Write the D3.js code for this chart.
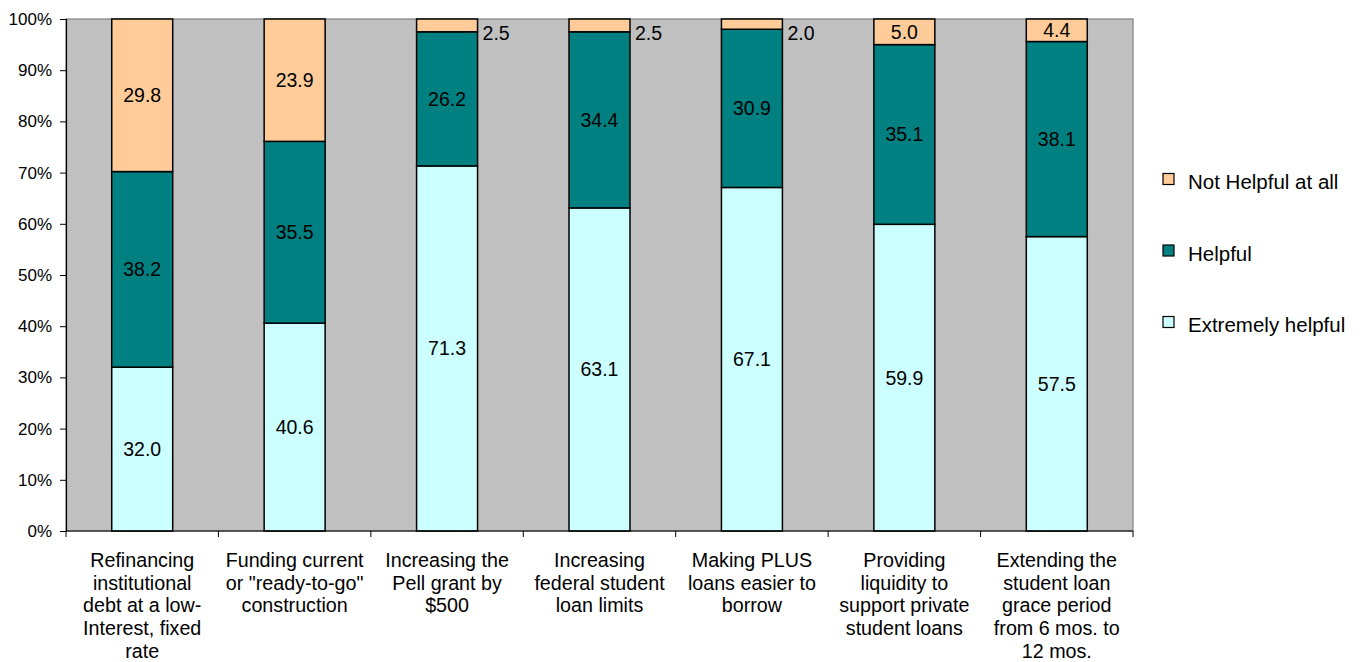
<!DOCTYPE html>
<html>
<head>
<meta charset="utf-8">
<script src="https://cdn.jsdelivr.net/npm/d3@7"></script>
<style>
  html, body { margin: 0; padding: 0; background: #fff; }
  svg { display: block; font-family: Arial, "Liberation Sans", sans-serif; }
</style>
</head>
<body>
<svg id="chart" width="1367" height="662"></svg>
<script>
// Survey responses: share of respondents per rating for each policy option
const categories = [
  ["Refinancing", "institutional", "debt at a low-", "Interest, fixed", "rate"],
  ["Funding current", "or \"ready-to-go\"", "construction"],
  ["Increasing the", "Pell grant by", "$500"],
  ["Increasing", "federal student", "loan limits"],
  ["Making PLUS", "loans easier to", "borrow"],
  ["Providing", "liquidity to", "support private", "student loans"],
  ["Extending the", "student loan", "grace period", "from 6 mos. to", "12 mos."]
];
const extremelyHelpful = [32.0, 40.6, 71.3, 63.1, 67.1, 59.9, 57.5];
const helpful          = [38.2, 35.5, 26.2, 34.4, 30.9, 35.1, 38.1];
const notHelpful       = [29.8, 23.9, 2.5, 2.5, 2.0, 5.0, 4.4];
const seriesNames = ["Extremely helpful", "Helpful", "Not Helpful at all"];
const seriesColors = ["#CCFFFF", "#008080", "#FFCC99"];
const yTicks = [0, 10, 20, 30, 40, 50, 60, 70, 80, 90, 100];

const svg = d3.select("#chart");
const plot = { left: 66, right: 1133, top: 19, bottom: 531 };

const x = d3.scaleBand()
  .domain(d3.range(categories.length))
  .range([plot.left, plot.right])
  .paddingInner(0.6)
  .paddingOuter(0.3);
const y = d3.scaleLinear().domain([0, 100]).range([plot.bottom, plot.top]);

// plot background
svg.append("rect")
  .attr("x", plot.left).attr("y", plot.top)
  .attr("width", plot.right - plot.left).attr("height", plot.bottom - plot.top)
  .attr("fill", "#C0C0C0").attr("stroke", "#808080").attr("stroke-width", 1.2);

// stacked data
const rows = categories.map((c, i) => ({
  i, "Extremely helpful": extremelyHelpful[i], "Helpful": helpful[i], "Not Helpful at all": notHelpful[i]
}));
const stacked = d3.stack().keys(seriesNames)(rows);

stacked.forEach((layer, li) => {
  const g = svg.append("g");
  g.selectAll("rect").data(layer).join("rect")
    .attr("x", d => x(d.data.i))
    .attr("width", x.bandwidth())
    .attr("y", d => y(d[1]))
    .attr("height", d => y(d[0]) - y(d[1]))
    .attr("fill", seriesColors[li])
    .attr("stroke", "#000").attr("stroke-width", 1.5);

  g.selectAll("text").data(layer).join("text")
    .each(function(d) {
      const v = d[1] - d[0];
      const t = d3.select(this);
      const outside = v < 3;
      if (outside) {
        t.attr("x", x(d.data.i) + x.bandwidth() + 5)
         .attr("y", y(d[1]) + 13.5)
         .attr("text-anchor", "start");
      } else {
        t.attr("x", x(d.data.i) + x.bandwidth() / 2)
         .attr("y", (y(d[0]) + y(d[1])) / 2)
         .attr("text-anchor", "middle");
      }
      t.attr("dominant-baseline", "central")
       .attr("font-size", 19.5).attr("fill", "#000")
       .text(v.toFixed(1));
    });
});

// y axis
const yAxis = svg.append("g").attr("transform", `translate(${plot.left},0)`)
  .call(d3.axisLeft(y).tickValues(yTicks).tickFormat(d => d + "%").tickSize(6).tickPadding(8));
yAxis.select(".domain").attr("stroke", "#000").attr("stroke-width", 1.2);
yAxis.selectAll(".tick line").attr("stroke", "#000");
yAxis.selectAll(".tick text").attr("font-size", 17).attr("font-family", "Arial, 'Liberation Sans', sans-serif").attr("fill", "#000");

// x axis baseline with ticks at category boundaries
const bounds = d3.range(categories.length + 1).map(k => plot.left + k * (plot.right - plot.left) / categories.length);
svg.append("line")
  .attr("x1", plot.left).attr("x2", plot.right)
  .attr("y1", plot.bottom).attr("y2", plot.bottom)
  .attr("stroke", "#000").attr("stroke-width", 1.2);
svg.selectAll(".xtick").data(bounds).join("line")
  .attr("class", "xtick")
  .attr("x1", d => d).attr("x2", d => d)
  .attr("y1", plot.bottom).attr("y2", plot.bottom + 6)
  .attr("stroke", "#000");

// category labels
svg.selectAll(".xlabel").data(categories).join("text")
  .attr("class", "xlabel")
  .attr("text-anchor", "middle")
  .attr("font-size", 19.7).attr("fill", "#000")
  .each(function(lines, i) {
    const cx = x(i) + x.bandwidth() / 2;
    d3.select(this).selectAll("tspan").data(lines).join("tspan")
      .attr("x", cx)
      .attr("y", (d, k) => 567 + k * 22.7)
      .text(d => d);
  });

// legend (top entry is the top of the stack)
const legendItems = seriesNames.map((n, i) => ({ name: n, color: seriesColors[i] })).reverse();
const legend = svg.append("g");
legendItems.forEach((d, k) => {
  const base = 189 + k * 71.5;
  legend.append("rect")
    .attr("x", 1163).attr("y", base - 15.5).attr("width", 11).attr("height", 11)
    .attr("fill", d.color).attr("stroke", "#000").attr("stroke-width", 1.2);
  legend.append("text")
    .attr("x", 1188).attr("y", base)
    .attr("font-size", 20.5).attr("fill", "#000")
    .text(d.name);
});
</script>
</body>
</html>
